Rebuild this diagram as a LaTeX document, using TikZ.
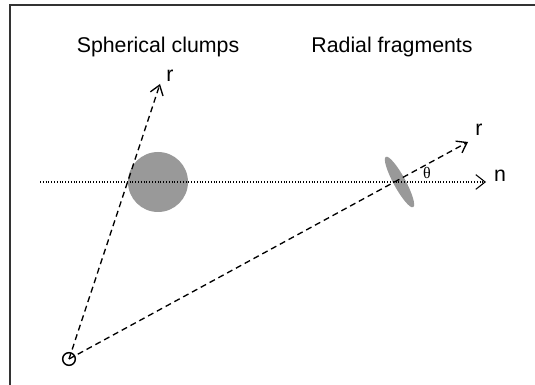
\documentclass[tikz,border=0pt]{standalone}
\usepackage{fontspec}
\setmainfont{Liberation Sans}
\newfontfamily\greekfont{Liberation Serif}
\usetikzlibrary{arrows.meta, positioning, shapes.geometric}
\definecolor{clumpGray}{HTML}{999999}

\begin{document}
\begin{tikzpicture}[x=0.75pt, y=0.75pt,
    lbl/.style={font=\fontsize{16}{19}\selectfont, inner sep=0pt},
    blob/.style={fill=clumpGray, draw=none, inner sep=0pt},
    vec/.style={line width=1pt, dash pattern=on 4.5pt off 3pt,
      -{Straight Barb[length=7pt, width=10pt]}},
    los/.style={line width=0.8pt, dash pattern=on 0.8pt off 1.3pt,
      -{Straight Barb[length=7pt, width=11pt]}}]
    \useasboundingbox (0,0) rectangle (535,385);
    \draw[line width=1pt, black!80] (10,0) -- (10,380) -- (535,380);

    \node[lbl, anchor=base] (tclump) at (158,332) {Spherical clumps};
    \node[lbl, anchor=base] (tfrag) at (392,332) {Radial fragments};

    % the two kinds of blob
    \node[blob, circle, minimum size=45pt] (clump) at (158,203) {};
    \node[blob, ellipse, rotate=28.5, minimum width=9pt,
      minimum height=43pt] (frag) at (399.5,203) {};

    \node[draw, circle, line width=1.1pt, minimum size=9.5pt, inner sep=0pt] (obs) at (69,26) {};
    \coordinate (rtipA) at (160,301);
    \coordinate (rtipB) at (468,243);
    \coordinate (nstart) at (40,203);
    \coordinate (ntip) at (486,203);

    \draw[los] (nstart) -- (ntip);
    \draw[vec] (obs.center) -- (rtipA);
    \draw[vec] (obs.center) -- (rtipB);

    \node[lbl, anchor=base] (rA) at (170,303) {r};
    \node[lbl, anchor=base] (rB) at (479,249) {r};
    \node[lbl, anchor=base] (nlbl) at (500,203) {n};
    \node[font=\greekfont\fontsize{12}{14}\selectfont, inner sep=0pt] (th) at (427,212) {θ};
\end{tikzpicture}
\end{document}
